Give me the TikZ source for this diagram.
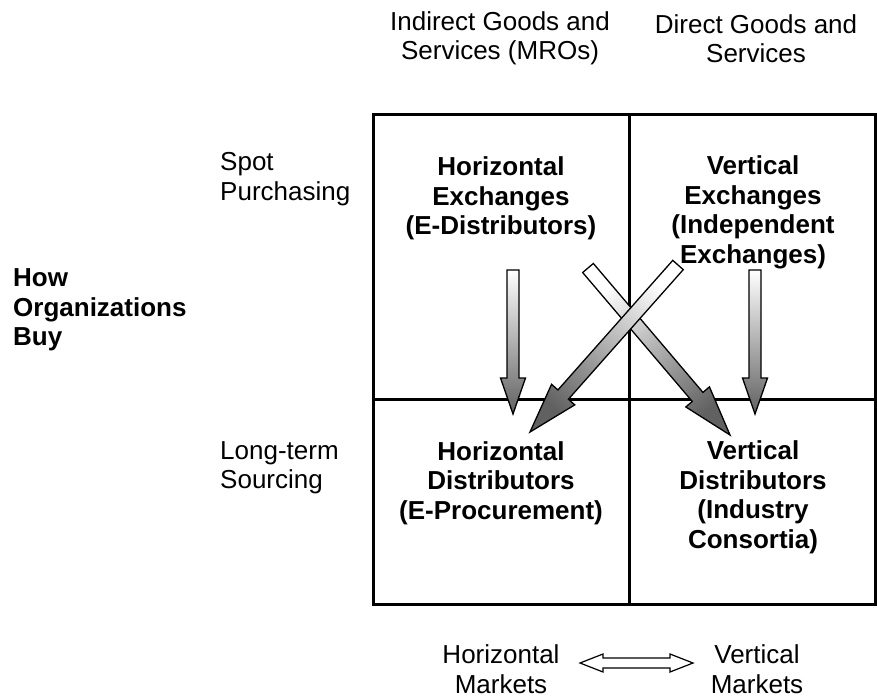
\documentclass[tikz,border=0pt]{standalone}
\usepackage{fontspec}
\setmainfont{Liberation Sans}
\usetikzlibrary{calc}
\newcommand\blockarr[6]{% #1 tail, #2 tip, #3 shaft half width, #4 head half width, #5 head length, #6 style
  \path let \p1=($(#2)-(#1)$) in \pgfextra{%
    \pgfmathsetmacro\tmpang{atan2(\y1,\x1)}%
    \pgfmathsetmacro\tmplen{veclen(\x1,\y1)}%
    \pgfmathsetmacro\tmpsh{\tmpang+90}%
    \global\let\arrang\tmpang \global\let\arrlen\tmplen \global\let\arrsh\tmpsh};
  \begin{scope}[shift={(#1)}, rotate=\arrang]
    \path[#6, shading angle=\arrsh] (0,#3) -- ({\arrlen-#5},#3) -- ({\arrlen-#5},#4) -- (\arrlen,0)
      -- ({\arrlen-#5},-#4) -- ({\arrlen-#5},-#3) -- (0,-#3) -- cycle;
  \end{scope}}
\begin{document}
\begin{tikzpicture}[x=1pt,y=-1pt,
  lbl/.style={inner sep=0pt, font=\fontsize{26}{29.5}\selectfont, align=center},
  lbll/.style={inner sep=0pt, font=\fontsize{26}{29.5}\selectfont, align=left, anchor=west},
  cell/.style={inner sep=0pt, font=\fontsize{26}{29.5}\selectfont\bfseries, align=center},
  gridline/.style={line width=3pt},
  barrow/.style={draw=black, line width=1.3pt, line join=miter, top color=white, bottom color=black!62},
  dblarrow/.style={draw=black, line width=1.2pt, fill=white, line join=miter},
]
\useasboundingbox (0,0) rectangle (877,700);

% grid
\draw[gridline] (373,115) rectangle (875.5,604);
\draw[gridline] (629,115) -- (629,604);
\draw[gridline] (373,399.5) -- (875.5,399.5);

% header labels
\node[lbl] (hind) at (500,38.5) {Indirect Goods and\\Services (MROs)};
\node[lbl] (hdir) at (756,38.5) {Direct Goods and\\Services};
\node[lbll] (spot) at (220,179) {Spot\\Purchasing};
\node[lbll] (long) at (220,468) {Long-term\\Sourcing};
\node[lbll, font=\fontsize{26}{29.5}\selectfont\bfseries] (how) at (13,310) {How\\Organizations\\Buy};

% cells
\node[cell] (c11) at (501,198.5) {Horizontal\\Exchanges\\(E-Distributors)};
\node[cell] (c12) at (753,212.5) {Vertical\\Exchanges\\(Independent\\Exchanges)};
\node[cell] (c21) at (501,483) {Horizontal\\Distributors\\(E-Procurement)};
\node[cell] (c22) at (753,497.5) {Vertical\\Distributors\\(Industry\\Consortia)};

% bottom labels
\node[lbl] (hm) at (501,669) {Horizontal\\Markets};
\node[lbl] (vm) at (757,669) {Vertical\\Markets};

% arrow end points
\coordinate (aT) at (513,270); \coordinate (aH) at (513,414);
\coordinate (bT) at (755,270); \coordinate (bH) at (755,414);
\coordinate (cT) at (588,268); \coordinate (cH) at (730,435);
\coordinate (dT) at (678,265); \coordinate (dH) at (530,432);

\blockarr{aT}{aH}{6}{12.5}{36}{barrow}
\blockarr{bT}{bH}{6}{12.5}{36}{barrow}
\blockarr{cT}{cH}{7}{15.5}{50}{barrow}
\blockarr{dT}{dH}{7}{15.5}{50}{barrow}

% double arrow
\coordinate (dl) at (580,663); \coordinate (dr) at (693,663);
\path[dblarrow] (dl) -- ++(23,-9) -- ++(0,4) -- ($(dr)+(-23,-5)$) -- ++(0,-4) -- (dr)
  -- ++(-23,9) -- ++(0,-4) -- ($(dl)+(23,5)$) -- ++(0,4) -- cycle;
\end{tikzpicture}
\end{document}
